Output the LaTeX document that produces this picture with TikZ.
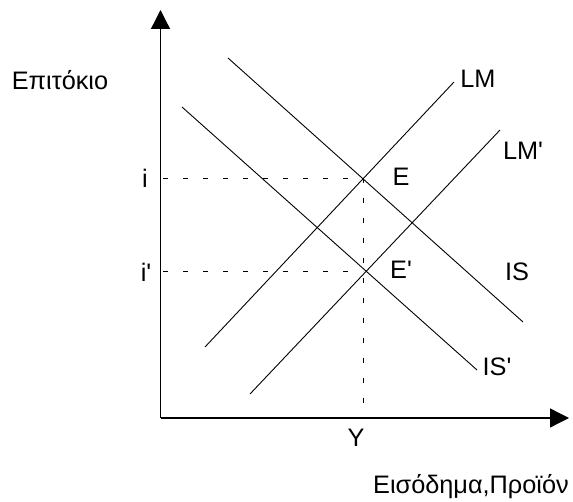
\documentclass[tikz,border=0pt]{standalone}
\usepackage{fontspec}
\setmainfont{Liberation Sans}
\usetikzlibrary{arrows.meta}
\begin{document}
\begin{tikzpicture}[x=1pt,y=-1pt,
  lbl/.style={font=\fontsize{25.3}{30}\selectfont, inner sep=0pt},
  axis/.style={line width=1.3pt, -{Triangle[width=19pt,length=19pt]}},
  curve/.style={line width=0.9pt},
  guide/.style={line width=0.8pt, dash pattern=on 5pt off 15pt}]
\useasboundingbox (0,0) rectangle (573,502);
% axes
\coordinate (O) at (160.5,418);
\coordinate (Ytop) at (160.5,10);
\coordinate (Xend) at (569,418);
\draw[axis] (O) -- (Ytop);
\draw[axis] (O) -- (Xend);
% curves
\coordinate (IS1) at (228,58);   \coordinate (IS2) at (523,322);
\coordinate (ISp1) at (182,107); \coordinate (ISp2) at (477,370);
\coordinate (LM1) at (205,347);  \coordinate (LM2) at (454,82);
\coordinate (LMp1) at (250,394); \coordinate (LMp2) at (500,130);
\draw[curve] (IS1) -- (IS2);
\draw[curve] (ISp1) -- (ISp2);
\draw[curve] (LM1) -- (LM2);
\draw[curve] (LMp1) -- (LMp2);
% equilibrium points
\coordinate (E) at (363,178);
\coordinate (Ep) at (363,271);
\coordinate (Yax) at (363,418);
\coordinate (iax) at (163,178);
\coordinate (ipax) at (163,271);
\draw[guide] (iax) -- (E);
\draw[guide] (ipax) -- (Ep);
\draw[guide] (E) -- (Yax);
% labels
\node[lbl] (ylab) at (60,80) {Επιτόκιο};
\node[lbl,anchor=east] (xlab) at (569,487) {Εισόδημα,Προϊόν};
\node[lbl] (ilab) at (145,178) {i};
\node[lbl] (iplab) at (146,272) {i\textquotesingle};
\node[lbl] (Elab) at (401,177) {E};
\node[lbl] (Eplab) at (401,270) {E\textquotesingle};
\node[lbl] (LMlab) at (478,79) {LM};
\node[lbl] (LMplab) at (523,151) {LM\textquotesingle};
\node[lbl] (ISlab) at (517,272) {IS};
\node[lbl] (ISplab) at (497,367) {IS\textquotesingle};
\node[lbl] (Ylab) at (356,438) {Y};
\end{tikzpicture}
\end{document}
